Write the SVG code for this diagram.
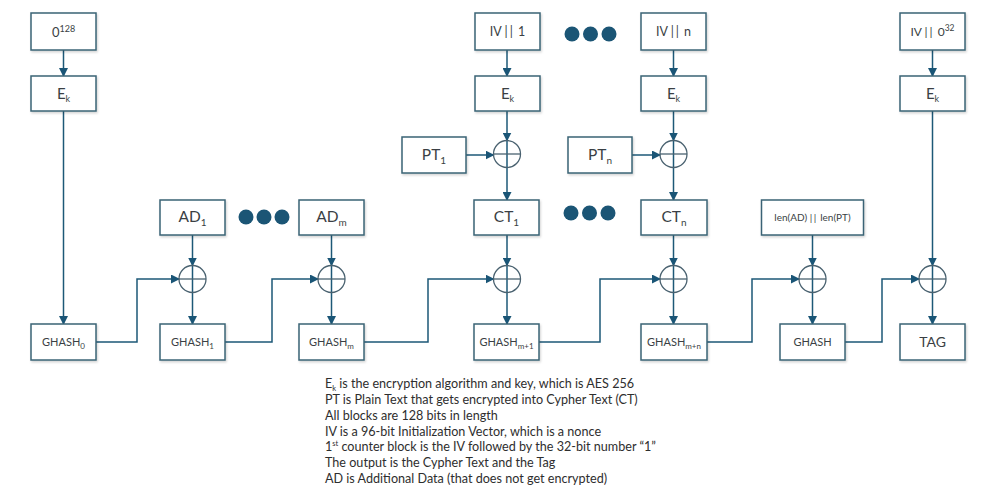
<svg xmlns="http://www.w3.org/2000/svg" width="988" height="496" viewBox="0 0 988 496">
<defs>
<marker id="arr" markerWidth="9" markerHeight="9" refX="8" refY="4.5" orient="auto" markerUnits="userSpaceOnUse">
<path d="M0,0 L9,4.5 L0,9 Z" fill="#1a5576"/>
</marker>
<filter id="sh" x="-10%" y="-10%" width="130%" height="140%">
<feDropShadow dx="1" dy="1.5" stdDeviation="1" flood-color="#000" flood-opacity="0.18"/>
</filter>
</defs>
<style>
.box{fill:#fff;stroke:#3b6476;stroke-width:1.5;filter:url(#sh)}
.lbl{font-family:Lato,"Open Sans","Liberation Sans",sans-serif;fill:#3a3f44;text-anchor:middle}
.bars{letter-spacing:2px}
.xor{fill:none;stroke:#4a6270;stroke-width:1.3}
.ln{fill:none;stroke:#1d5877;stroke-width:1.5}
.dot{fill:#1b5575}
.note{font-family:Lato,"Open Sans","Liberation Sans",sans-serif;font-size:12.6px;fill:#2e2e2e}
</style>
<rect width="988" height="496" fill="#fff"/>

<g id="connectors">
<path class="ln" d="M63.5,50 V76" marker-end="url(#arr)"/>
<path class="ln" d="M63.5,111 V324" marker-end="url(#arr)"/>
<path class="ln" d="M96,342 H137 V279 H179" marker-end="url(#arr)"/>
<path class="ln" d="M192.5,235 V265.5" marker-end="url(#arr)"/>
<path class="ln" d="M192.5,265.5 V324" marker-end="url(#arr)"/>
<path class="ln" d="M225,342 H272 V279 H318" marker-end="url(#arr)"/>
<path class="ln" d="M331.5,235 V265.5" marker-end="url(#arr)"/>
<path class="ln" d="M331.5,265.5 V324" marker-end="url(#arr)"/>
<path class="ln" d="M364,342 H428 V279 H493.5" marker-end="url(#arr)"/>
<path class="ln" d="M507,50 V76" marker-end="url(#arr)"/>
<path class="ln" d="M507,111 V140.5" marker-end="url(#arr)"/>
<path class="ln" d="M507,140.5 V200" marker-end="url(#arr)"/>
<path class="ln" d="M466,155 H493.5" marker-end="url(#arr)"/>
<path class="ln" d="M507,235 V265.5" marker-end="url(#arr)"/>
<path class="ln" d="M507,265.5 V324" marker-end="url(#arr)"/>
<path class="ln" d="M539,342 H600 V279 H660" marker-end="url(#arr)"/>
<path class="ln" d="M673.5,50 V76" marker-end="url(#arr)"/>
<path class="ln" d="M673.5,111 V140.5" marker-end="url(#arr)"/>
<path class="ln" d="M673.5,140.5 V200" marker-end="url(#arr)"/>
<path class="ln" d="M632,155 H660" marker-end="url(#arr)"/>
<path class="ln" d="M673.5,235 V265.5" marker-end="url(#arr)"/>
<path class="ln" d="M673.5,265.5 V324" marker-end="url(#arr)"/>
<path class="ln" d="M707,342 H752 V279 H799" marker-end="url(#arr)"/>
<path class="ln" d="M812.5,235 V265.5" marker-end="url(#arr)"/>
<path class="ln" d="M812.5,265.5 V324" marker-end="url(#arr)"/>
<path class="ln" d="M845,342 H882 V279 H919" marker-end="url(#arr)"/>
<path class="ln" d="M932.5,50 V76" marker-end="url(#arr)"/>
<path class="ln" d="M932.5,111 V265.5" marker-end="url(#arr)"/>
<path class="ln" d="M932.5,265.5 V324" marker-end="url(#arr)"/>
</g>

<g id="xors">
<g id="xor-ad1"><circle class="xor" cx="192.5" cy="279" r="13.5"/><path class="xor" d="M179,279 H206"/></g>
<g id="xor-adm"><circle class="xor" cx="331.5" cy="279" r="13.5"/><path class="xor" d="M318,279 H345"/></g>
<g id="xor-pt1"><circle class="xor" cx="507" cy="154" r="13.5"/><path class="xor" d="M493.5,154 H520.5"/></g>
<g id="xor-ct1"><circle class="xor" cx="507" cy="279" r="13.5"/><path class="xor" d="M493.5,279 H520.5"/></g>
<g id="xor-ptn"><circle class="xor" cx="673.5" cy="154" r="13.5"/><path class="xor" d="M660,154 H687"/></g>
<g id="xor-ctn"><circle class="xor" cx="673.5" cy="279" r="13.5"/><path class="xor" d="M660,279 H687"/></g>
<g id="xor-len"><circle class="xor" cx="812.5" cy="279" r="13.5"/><path class="xor" d="M799,279 H826"/></g>
<g id="xor-tag"><circle class="xor" cx="932.5" cy="279" r="13.5"/><path class="xor" d="M919,279 H946"/></g>
</g>

<g id="zero128"><rect class="box" x="31" y="13" width="65" height="37"/><text class="lbl" x="63.5" y="37" font-size="13">0<tspan font-size="9" dy="-5">128</tspan></text></g>
<g id="ek0"><rect class="box" x="31" y="76" width="65" height="35"/><text class="lbl" x="63.5" y="99" font-size="15">E<tspan font-size="9" dy="3">k</tspan></text></g>
<g id="ghash0"><rect class="box" x="31" y="324" width="65" height="36"/><text class="lbl" x="63.5" y="346" font-size="11">GHASH<tspan font-size="8" dy="3">0</tspan></text></g>

<g id="ad1"><rect class="box" x="160" y="200" width="65" height="35"/><text class="lbl" x="192.5" y="222" font-size="15.5">AD<tspan font-size="10" dy="4">1</tspan></text></g>
<g id="ghash1"><rect class="box" x="160" y="324" width="65" height="36"/><text class="lbl" x="192.5" y="346" font-size="11">GHASH<tspan font-size="8" dy="3">1</tspan></text></g>
<g id="dots-ad"><circle class="dot" cx="246" cy="217" r="7.5"/><circle class="dot" cx="264" cy="217" r="7.5"/><circle class="dot" cx="282" cy="217" r="7.5"/></g>
<g id="adm"><rect class="box" x="299" y="200" width="65" height="35"/><text class="lbl" x="331.5" y="222" font-size="15.5">AD<tspan font-size="10" dy="4">m</tspan></text></g>
<g id="ghashm"><rect class="box" x="299" y="324" width="65" height="36"/><text class="lbl" x="331.5" y="346" font-size="11">GHASH<tspan font-size="8" dy="3">m</tspan></text></g>

<g id="iv1"><rect class="box" x="475" y="13" width="65" height="37"/><text class="lbl" x="507.5" y="36" font-size="12.5">IV <tspan class="bars">||</tspan> 1</text></g>
<g id="ek1"><rect class="box" x="475" y="76" width="65" height="35"/><text class="lbl" x="507.5" y="99" font-size="15">E<tspan font-size="9" dy="3">k</tspan></text></g>
<g id="pt1"><rect class="box" x="402" y="137" width="64" height="36"/><text class="lbl" x="434" y="160" font-size="15.5">PT<tspan font-size="10" dy="4">1</tspan></text></g>
<g id="ct1"><rect class="box" x="474" y="200" width="65" height="35"/><text class="lbl" x="506.5" y="222" font-size="15.5">CT<tspan font-size="10" dy="4">1</tspan></text></g>
<g id="ghashm1"><rect class="box" x="474" y="324" width="65" height="36"/><text class="lbl" x="506.5" y="346" font-size="11">GHASH<tspan font-size="8" dy="3">m+1</tspan></text></g>

<g id="dots-top"><circle class="dot" cx="572" cy="34" r="7.5"/><circle class="dot" cx="590.5" cy="34" r="7.5"/><circle class="dot" cx="609" cy="34" r="7.5"/></g>
<g id="dots-ct"><circle class="dot" cx="571" cy="213" r="7.5"/><circle class="dot" cx="589.5" cy="213" r="7.5"/><circle class="dot" cx="608" cy="213" r="7.5"/></g>

<g id="ivn"><rect class="box" x="641" y="13" width="65" height="37"/><text class="lbl" x="673.5" y="36" font-size="12.5">IV <tspan class="bars">||</tspan> n</text></g>
<g id="ekn"><rect class="box" x="641" y="76" width="65" height="35"/><text class="lbl" x="673.5" y="99" font-size="15">E<tspan font-size="9" dy="3">k</tspan></text></g>
<g id="ptn"><rect class="box" x="568" y="137" width="64" height="36"/><text class="lbl" x="600" y="160" font-size="15.5">PT<tspan font-size="10" dy="4">n</tspan></text></g>
<g id="ctn"><rect class="box" x="641" y="200" width="66" height="35"/><text class="lbl" x="674" y="222" font-size="15.5">CT<tspan font-size="10" dy="4">n</tspan></text></g>
<g id="ghashmn"><rect class="box" x="641" y="324" width="66" height="36"/><text class="lbl" x="674" y="346" font-size="11">GHASH<tspan font-size="8" dy="3">m+n</tspan></text></g>

<g id="len"><rect class="box" x="761.5" y="200" width="102" height="35"/><text class="lbl" x="812.5" y="221" font-size="10">len(AD) <tspan class="bars" style="letter-spacing:1.5px">||</tspan> len(PT)</text></g>
<g id="ghash"><rect class="box" x="780" y="324" width="65" height="36"/><text class="lbl" x="812.5" y="346" font-size="11">GHASH</text></g>

<g id="iv032"><rect class="box" x="900" y="13" width="65" height="37"/><text class="lbl" x="932.5" y="36" font-size="12">IV <tspan class="bars">||</tspan> 0<tspan font-size="8.5" dy="-5">32</tspan></text></g>
<g id="ektag"><rect class="box" x="900" y="76" width="65" height="35"/><text class="lbl" x="932.5" y="99" font-size="15">E<tspan font-size="9" dy="3">k</tspan></text></g>
<g id="tag"><rect class="box" x="900" y="324" width="65" height="36"/><text class="lbl" x="932.5" y="347" font-size="14">TAG</text></g>

<g id="notes">
<text class="note" x="325" y="388">E<tspan font-size="7.5" dy="2.5">k</tspan><tspan dy="-2.5"> is the encryption algorithm and key, which is AES 256</tspan></text>
<text class="note" x="325" y="404">PT is Plain Text that gets encrypted into Cypher Text (CT)</text>
<text class="note" x="325" y="420">All blocks are 128 bits in length</text>
<text class="note" x="325" y="436">IV is a 96-bit Initialization Vector, which is a nonce</text>
<text class="note" x="325" y="451">1<tspan font-size="7.5" dy="-5">st</tspan><tspan dy="5"> counter block is the IV followed by the 32-bit number “1”</tspan></text>
<text class="note" x="325" y="467">The output is the Cypher Text and the Tag</text>
<text class="note" x="325" y="483">AD is Additional Data (that does not get encrypted)</text>
</g>
</svg>
